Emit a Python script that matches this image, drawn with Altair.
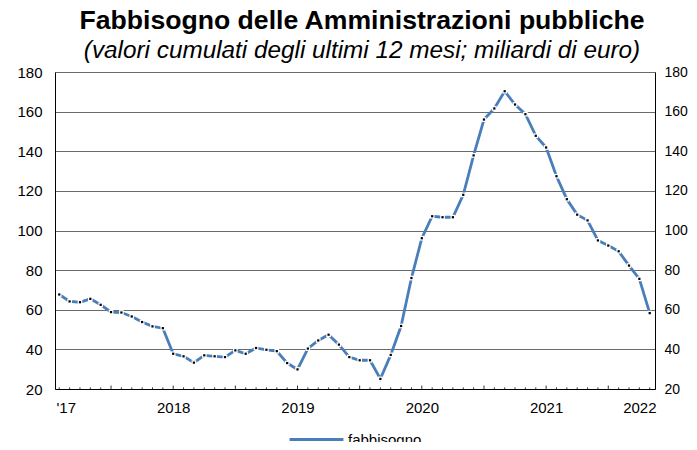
import altair as alt
import pandas as pd

# 12-month cumulative borrowing requirement, billions of euro (Feb 2017 - Nov 2021)
values = [67.7, 64.2, 63.8, 65.5, 62.5, 58.8, 58.6, 56.6, 53.8, 51.6, 50.7,
          37.8, 36.5, 33.3, 37.0, 36.5, 36.1, 39.5, 37.8, 40.7, 39.8, 39.1, 33.1, 29.9,
          40.4, 44.5, 47.4, 42.4, 36.1, 34.5, 34.5, 25.1, 37.2, 51.8, 76.0, 96.1,
          107.2, 106.7, 106.7, 118.0, 137.9, 156.0, 161.6, 170.3, 163.6, 158.7, 147.8, 141.9,
          127.4, 115.8, 108.0, 105.1, 95.0, 92.4, 89.5, 82.3, 75.6, 58.3]
months = pd.period_range("2017-02", periods=len(values), freq="M").strftime("%Y-%m").tolist()
series_name = "fabbisogno"

x_label_months = ["2017-02", "2018-01", "2019-01", "2020-01", "2021-01", "2021-10"]
x_labels = ["'17", "2018", "2019", "2020", "2021", "2022"]
y_ticks = [20, 40, 60, 80, 100, 120, 140, 160, 180]

df = pd.DataFrame({"month": months, "value": values})
df["idx"] = range(len(df))
df["serie"] = series_name
df["major"] = df["month"].str[5:].isin(["01", "07"])
df["y0"] = 20.0
df["y1"] = df["major"].map({True: 21.75, False: 20.8})

label_idx = [months.index(m) for m in x_label_months]
expr = '""'
for i, lab in zip(label_idx[::-1], x_labels[::-1]):
    expr = f'datum.value == {i} ? "{lab}" : ({expr})'

FONT = "Liberation Sans"
BLUE = "#4A7EBB"

xscale = alt.Scale(domain=[-0.41, 57.51], nice=False, zero=False)
yscale = alt.Scale(domain=[20, 180], nice=False, zero=False)

base = alt.Chart(df)

xaxis = alt.Axis(values=label_idx, labelExpr=expr, tickSize=0, domain=True,
                 domainColor="black", labelFont=FONT, labelFontSize=15,
                 labelColor="black", labelPadding=11, labelOverlap=False,
                 labelFlush=False, grid=False, title=None,
                 labelOffset={"condition": {"test": "datum.value == 0", "value": 6.5}, "value": 0})

yaxis_left = alt.Axis(values=y_ticks, orient="left", tickSize=0, grid=True,
                      gridColor="#6a6a6a", gridWidth=1, domainColor="black",
                      labelFont=FONT, labelFontSize=15, labelColor="black",
                      labelPadding=13, title=None)
yaxis_right = alt.Axis(values=y_ticks, orient="right", tickSize=0, grid=False,
                       domainColor="black", labelFont=FONT, labelFontSize=14,
                       labelColor="black", labelPadding=9, title=None)

ticks = base.mark_rule(color="#333333", strokeWidth=1).encode(
    x=alt.X("idx:Q", scale=xscale, axis=xaxis),
    y=alt.Y("y0:Q", scale=yscale, axis=yaxis_left),
    y2="y1:Q",
)

line = base.mark_line(strokeWidth=2.8).encode(
    x=alt.X("idx:Q", scale=xscale),
    y=alt.Y("value:Q", scale=yscale, axis=None),
    color=alt.Color("serie:N", scale=alt.Scale(range=[BLUE]),
                    legend=alt.Legend(orient="none", legendX=233, legendY=339,
                                      direction="horizontal", padding=0,
                                      title=None, symbolType="stroke",
                                      symbolSize=2900, symbolStrokeWidth=3,
                                      labelFont=FONT, labelFontSize=15,
                                      labelColor="black", labelOffset=3)),
)

halo = base.mark_square(size=22, color="white", opacity=1).encode(
    x=alt.X("idx:Q", scale=xscale),
    y=alt.Y("value:Q", scale=yscale, axis=None),
)

dots = base.mark_square(size=5, color="black", opacity=1).encode(
    x=alt.X("idx:Q", scale=xscale),
    y=alt.Y("value:Q", scale=yscale, axis=yaxis_right),
)

chart = alt.layer(ticks, line, halo, dots).resolve_axis(y="independent").properties(
    width=600,
    height=317,
    autosize=alt.AutoSizeParams(type="none"),
    padding={"left": 47, "top": 64, "right": 34, "bottom": 53},
    title=alt.TitleParams(
        text="Fabbisogno delle Amministrazioni pubbliche",
        subtitle="(valori cumulati degli ultimi 12 mesi; miliardi di euro)",
        font=FONT, fontSize=26.6, fontWeight="bold", color="black",
        subtitleFont=FONT, subtitleFontSize=24.3, subtitleFontStyle="italic",
        subtitleColor="black", subtitlePadding=4, anchor="middle", dx=7, offset=2,
    ),
).configure_view(stroke="black", strokeWidth=1).configure(background="white")

chart.save("out.html", embed_options={"renderer": "svg", "actions": False})
